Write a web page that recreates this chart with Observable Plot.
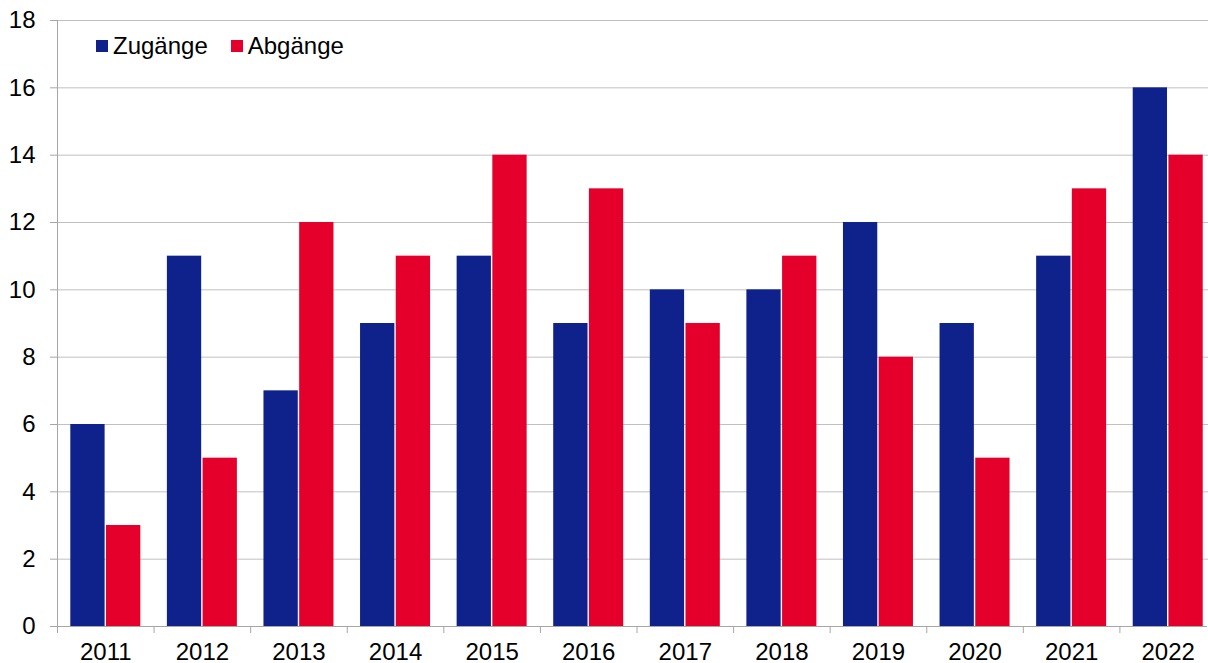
<!DOCTYPE html>
<html>
<head>
<meta charset="utf-8">
<script src="https://cdn.jsdelivr.net/npm/d3@7"></script>
<script src="https://cdn.jsdelivr.net/npm/@observablehq/plot@0.6"></script>
<style>
  html, body { margin: 0; padding: 0; background: #fff; }
  #wrap { position: relative; width: 1208px; height: 663px; font-family: "Liberation Sans", Arial, sans-serif; }
  #legend { position: absolute; left: 96px; top: 32px; display: flex; align-items: center; font-size: 24px; line-height: 28px; color: #000; }
  #legend .item { display: flex; align-items: center; margin-right: 23px; }
  #legend .sw { width: 12px; height: 12px; margin-right: 5px; }
</style>
</head>
<body>
<div id="wrap"><div id="legend"></div></div>
<script>
const years = ["2011","2012","2013","2014","2015","2016","2017","2018","2019","2020","2021","2022"];
const zugaenge = [6, 11, 7, 9, 11, 9, 10, 10, 12, 9, 11, 16];
const abgaenge = [3, 5, 12, 11, 14, 13, 9, 11, 8, 5, 13, 14];
const seriesNames = ["Zugänge", "Abgänge"];
const seriesColors = ["#0f218b", "#e4002b"];
const yTicks = [0, 2, 4, 6, 8, 10, 12, 14, 16, 18];

const zData = years.map((y, i) => ({year: y, value: zugaenge[i]}));
const aData = years.map((y, i) => ({year: y, value: abgaenge[i]}));

const W = 1208, H = 663, mL = 57, mR = 0, mT = 20, mB = 37;
const xEnd = 1216; // the last category band runs past the right edge, as in the original
const bw = (xEnd - mL) / years.length;
const outer = 13.3, barW = 34.3, gap = 1.4;

const chart = Plot.plot({
  width: W,
  height: H,
  marginLeft: mL,
  marginRight: mR,
  marginTop: mT,
  marginBottom: mB,
  style: {fontFamily: "Liberation Sans, Arial, sans-serif", fontSize: "24px", color: "#000", background: "#fff"},
  x: {domain: years, padding: 0, round: false, label: null, range: [mL, xEnd]},
  y: {domain: [0, 18], label: null},
  marks: [
    Plot.gridY(yTicks.filter(d => d > 0), {stroke: "#c0c0c0", strokeOpacity: 1}),
    Plot.barY(zData, {x: "year", y: "value", fill: seriesColors[0], insetLeft: outer, insetRight: bw - outer - barW}),
    Plot.barY(aData, {x: "year", y: "value", fill: seriesColors[1], insetLeft: outer + barW + gap, insetRight: bw - outer - 2 * barW - gap}),
    Plot.frame({anchor: "left", stroke: "#a6a6a6"}),
    Plot.frame({anchor: "bottom", stroke: "#a6a6a6", insetRight: 2}),
    Plot.axisY({ticks: yTicks, tickSize: 7, tickPadding: 15, stroke: "#a6a6a6", fill: "#000", fontSize: 24, label: null}),
    Plot.axisX({ticks: years, tickSize: 7, tickFormat: () => "", dx: -bw / 2, stroke: "#a6a6a6", label: null}),
    Plot.axisX({ticks: years, tickSize: 0, tickPadding: 16, fill: "#000", fontSize: 24, label: null})
  ]
});
document.getElementById("wrap").prepend(chart);

const legend = document.getElementById("legend");
seriesNames.forEach((n, i) => {
  const it = document.createElement("div");
  it.className = "item";
  const sw = document.createElement("div");
  sw.className = "sw";
  sw.style.background = seriesColors[i];
  const t = document.createElement("span");
  t.textContent = n;
  it.appendChild(sw);
  it.appendChild(t);
  legend.appendChild(it);
});
</script>
</body>
</html>
